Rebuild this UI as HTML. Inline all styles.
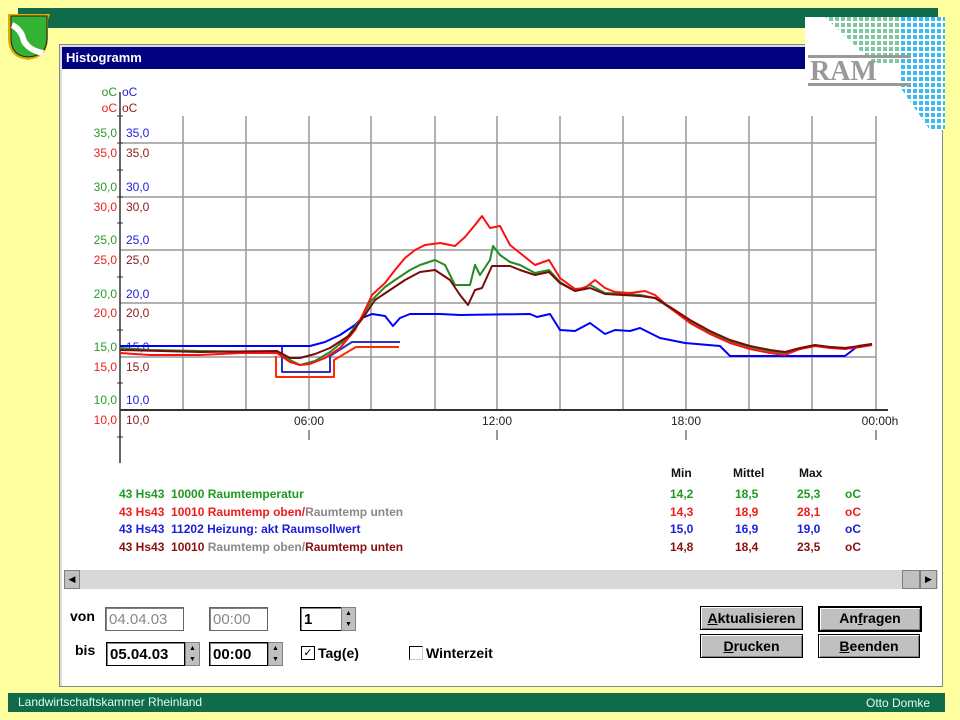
<!DOCTYPE html>
<html><head><meta charset="utf-8"><style>
body{margin:0;width:960px;height:720px;background:#ffffa0;position:relative;overflow:hidden;font-family:"Liberation Sans",sans-serif}
.a{position:absolute}
.btn{position:absolute;background:#c0c0c0;border:1px solid #000;box-shadow:inset 1px 1px 0 #fff,inset -1px -1px 0 #808080;font:bold 14px "Liberation Sans",sans-serif;text-align:center;line-height:22px;height:22px}
.inp{position:absolute;background:#fff;border:1px solid #000;box-shadow:inset 1px 1px 0 #808080;font:bold 15px "Liberation Sans",sans-serif;line-height:24px;height:24px;padding-left:3px;box-sizing:border-box}
.spin{position:absolute;width:15px;height:24px;background:#c0c0c0;border:1px solid #808080;box-sizing:border-box;font-size:7px;line-height:11px;text-align:center}
.lg{position:absolute;font:bold 12px "Liberation Sans",sans-serif;white-space:pre}
</style></head><body>
<div class="a" style="left:18px;top:8px;width:920px;height:20px;background:#0f6b4a"></div>
<div class="a" style="left:8px;top:693px;width:937px;height:19px;background:#0f6b4a"></div>
<div class="a" style="left:18px;top:695px;color:#dfe;font-size:12px">Landwirtschaftskammer Rheinland</div>
<div class="a" style="left:866px;top:696px;color:#dfe;font-size:12px">Otto Domke</div>
<svg class="a" style="left:4px;top:12px" width="48" height="50"><path d="M4 2 H46 L44 8 V26 Q44 46 24 48 Q4 46 4 26 V8 Z" fill="#d9b000"/><path d="M7 4 H43 V26 Q43 44 24 45 Q7 44 7 26 Z" fill="#33b233" stroke="#222" stroke-width="1"/><path d="M9 10 Q20 16 22 26 Q26 36 40 38 L38 44 Q22 40 17 30 Q15 20 7 16 Z" fill="#fff"/></svg>
<div class="a" style="left:59px;top:44px;width:882px;height:641px;background:#fff;border:1px solid #888;box-shadow:inset 2px 2px 0 #ddd"></div>
<div class="a" style="left:62px;top:47px;width:878px;height:22px;background:#000080;color:#fff;font:bold 13px 'Liberation Sans',sans-serif;line-height:22px;padding-left:4px;box-sizing:border-box">Histogramm</div>
<svg class="a" style="left:805px;top:17px" width="140" height="113"><defs>
<pattern id="g" width="6" height="6" patternUnits="userSpaceOnUse"><rect width="4" height="4" fill="#80c8a0"/></pattern>
<pattern id="b" width="6" height="6" patternUnits="userSpaceOnUse"><rect width="4" height="4" fill="#40b8f0"/></pattern></defs>
<rect width="140" height="113" fill="#fff"/>
<polygon points="20,0 110,0 110,48 70,48" fill="url(#g)"/>
<polygon points="95,0 140,0 140,113 125,113 95,70" fill="url(#b)"/>
<rect x="3" y="38" width="103" height="3" fill="#999"/><rect x="3" y="66" width="103" height="3" fill="#999"/>
<text x="5" y="63" font-family="Liberation Serif" font-weight="bold" font-size="28" fill="#999">RAM</text></svg>
<svg class="a" style="left:0;top:0" width="960" height="470" font-family="Liberation Sans" font-size="12">
<g stroke="#999" stroke-width="1.5">
<line x1="120" y1="143" x2="876" y2="143"/><line x1="120" y1="197" x2="876" y2="197"/><line x1="120" y1="250" x2="876" y2="250"/><line x1="120" y1="303" x2="876" y2="303"/><line x1="120" y1="357" x2="876" y2="357"/>
<line x1="183" y1="116" x2="183" y2="410"/><line x1="246" y1="116" x2="246" y2="410"/><line x1="309" y1="116" x2="309" y2="410"/><line x1="371" y1="116" x2="371" y2="410"/><line x1="435" y1="116" x2="435" y2="410"/><line x1="497" y1="116" x2="497" y2="410"/><line x1="560" y1="116" x2="560" y2="410"/><line x1="623" y1="116" x2="623" y2="410"/><line x1="686" y1="116" x2="686" y2="410"/><line x1="749" y1="116" x2="749" y2="410"/><line x1="812" y1="116" x2="812" y2="410"/><line x1="876" y1="116" x2="876" y2="410"/>
</g>
<line x1="120" y1="92" x2="120" y2="463" stroke="#333" stroke-width="1.5"/>
<line x1="120" y1="410" x2="888" y2="410" stroke="#333" stroke-width="2"/>
<g stroke="#333"><line x1="309" y1="430" x2="309" y2="440"/><line x1="497" y1="430" x2="497" y2="440"/><line x1="686" y1="430" x2="686" y2="440"/><line x1="876" y1="430" x2="876" y2="440"/>
<line x1="117" y1="116" x2="123" y2="116"/><line x1="117" y1="170" x2="123" y2="170"/><line x1="117" y1="223" x2="123" y2="223"/><line x1="117" y1="277" x2="123" y2="277"/><line x1="117" y1="330" x2="123" y2="330"/><line x1="117" y1="383" x2="123" y2="383"/><line x1="117" y1="437" x2="123" y2="437"/><line x1="117" y1="143" x2="123" y2="143"/><line x1="117" y1="197" x2="123" y2="197"/></g>
<g text-anchor="end">
<text x="117" y="96" fill="#2a9a2a">oC</text><text x="117" y="112" fill="#ee2020">oC</text>
<text x="117" y="137" fill="#2a9a2a">35,0</text><text x="117" y="157" fill="#ee2020">35,0</text>
<text x="117" y="191" fill="#2a9a2a">30,0</text><text x="117" y="211" fill="#ee2020">30,0</text>
<text x="117" y="244" fill="#2a9a2a">25,0</text><text x="117" y="264" fill="#ee2020">25,0</text>
<text x="117" y="298" fill="#2a9a2a">20,0</text><text x="117" y="317" fill="#ee2020">20,0</text>
<text x="117" y="351" fill="#2a9a2a">15,0</text><text x="117" y="371" fill="#ee2020">15,0</text>
<text x="117" y="404" fill="#2a9a2a">10,0</text><text x="117" y="424" fill="#ee2020">10,0</text></g>
<g>
<text x="122" y="96" fill="#2020dd">oC</text><text x="122" y="112" fill="#8b1a1a">oC</text>
<text x="126" y="137" fill="#2020dd">35,0</text><text x="126" y="157" fill="#8b1a1a">35,0</text>
<text x="126" y="191" fill="#2020dd">30,0</text><text x="126" y="211" fill="#8b1a1a">30,0</text>
<text x="126" y="244" fill="#2020dd">25,0</text><text x="126" y="264" fill="#8b1a1a">25,0</text>
<text x="126" y="298" fill="#2020dd">20,0</text><text x="126" y="317" fill="#8b1a1a">20,0</text>
<text x="126" y="351" fill="#2020dd">15,0</text><text x="126" y="371" fill="#8b1a1a">15,0</text>
<text x="126" y="404" fill="#2020dd">10,0</text><text x="126" y="424" fill="#8b1a1a">10,0</text></g>
<g fill="#222" text-anchor="middle"><text x="309" y="425">06:00</text><text x="497" y="425">12:00</text><text x="686" y="425">18:00</text><text x="880" y="425">00:00h</text></g>
<g fill="none" stroke-width="2" stroke-linejoin="round">
<polyline stroke="#ff2a00" points="276,356 276,377 334,377 334,360 356,347 399,347"/>
<polyline stroke="#3030c0" points="282,346 282,372 330,372 330,356 352,342 400,342"/>
<polyline stroke="#0000ff" points="120,346 310,346 325,342 340,335 355,325 362,318 372,314 385,316 393,326 400,318 410,314 440,314 460,315 530,314 537,317 550,314 560,330 575,331 590,323 605,334 615,330 630,331 640,328 660,338 685,343 720,346 730,356 845,356 858,346 872,344"/>
<polyline stroke="#228b22" points="120,348 150,350 200,351 277,352 290,360 300,365 315,361 330,352 345,340 360,320 372,300 385,287 395,280 410,270 420,265 435,260 445,265 455,285 470,285 475,265 480,275 490,260 493,246 500,255 510,262 520,265 535,273 549,270 560,282 575,291 590,285 605,293 640,295 655,298 670,308 690,322 710,333 730,341 750,347 770,351 785,353 800,349 815,346 830,347 845,348 860,347 872,345"/>
<polyline stroke="#ff1010" points="120,353 150,355 200,355 240,353 277,353 290,362 300,365 310,364 325,358 340,348 355,330 365,310 372,295 385,283 395,270 405,258 415,250 425,245 440,243 455,246 465,237 475,225 482,216 490,228 500,226 510,245 520,253 535,265 549,260 560,278 575,289 585,288 595,280 605,288 615,292 630,293 645,291 655,295 670,308 690,323 710,334 730,343 750,349 770,353 785,355 800,349 815,346 830,348 845,349 860,347 872,345"/>
<polyline stroke="#7a0a0a" points="120,350 200,352 277,351 290,358 300,358 315,354 330,348 350,335 365,315 375,300 390,290 405,280 420,272 435,270 450,280 460,295 468,305 475,290 482,288 492,266 510,266 520,270 535,275 549,272 560,283 575,291 590,288 605,294 640,296 655,298 670,307 690,320 710,331 730,340 750,346 770,350 785,352 800,348 815,345 830,347 845,348 860,346 872,344"/>
</g></svg>
<div class="lg" style="left:119px;top:487px;color:#1f9a1f">43 Hs43  10000 Raumtemperatur</div>
<div class="lg" style="left:119px;top:505px;color:#ee1c1c">43 Hs43  10010 Raumtemp oben/<span style="color:#888">Raumtemp unten</span></div>
<div class="lg" style="left:119px;top:522px;color:#1c1cdd">43 Hs43  11202 Heizung: akt Raumsollwert</div>
<div class="lg" style="left:119px;top:540px;color:#8b1010">43 Hs43  10010 <span style="color:#888">Raumtemp oben/</span>Raumtemp unten</div>
<div class="lg" style="left:671px;top:466px;color:#111">Min</div>
<div class="lg" style="left:733px;top:466px;color:#111">Mittel</div>
<div class="lg" style="left:799px;top:466px;color:#111">Max</div>
<div class="lg" style="left:670px;top:487px;color:#1f9a1f">14,2</div><div class="lg" style="left:735px;top:487px;color:#1f9a1f">18,5</div><div class="lg" style="left:797px;top:487px;color:#1f9a1f">25,3</div><div class="lg" style="left:845px;top:487px;color:#1f9a1f">oC</div>
<div class="lg" style="left:670px;top:505px;color:#ee1c1c">14,3</div><div class="lg" style="left:735px;top:505px;color:#ee1c1c">18,9</div><div class="lg" style="left:797px;top:505px;color:#ee1c1c">28,1</div><div class="lg" style="left:845px;top:505px;color:#ee1c1c">oC</div>
<div class="lg" style="left:670px;top:522px;color:#1c1cdd">15,0</div><div class="lg" style="left:735px;top:522px;color:#1c1cdd">16,9</div><div class="lg" style="left:797px;top:522px;color:#1c1cdd">19,0</div><div class="lg" style="left:845px;top:522px;color:#1c1cdd">oC</div>
<div class="lg" style="left:670px;top:540px;color:#8b1010">14,8</div><div class="lg" style="left:735px;top:540px;color:#8b1010">18,4</div><div class="lg" style="left:797px;top:540px;color:#8b1010">23,5</div><div class="lg" style="left:845px;top:540px;color:#8b1010">oC</div>
<div class="a" style="left:64px;top:570px;width:874px;height:19px;background:#d8d8d8"></div>
<div class="a" style="left:64px;top:570px;width:16px;height:19px;background:#c0c0c0;border:1px solid #808080;box-sizing:border-box;font-size:9px;text-align:center;line-height:17px">◀</div>
<div class="a" style="left:902px;top:570px;width:18px;height:19px;background:#c0c0c0;border:1px solid #808080;box-sizing:border-box"></div>
<div class="a" style="left:920px;top:570px;width:17px;height:19px;background:#c0c0c0;border:1px solid #808080;box-sizing:border-box;font-size:9px;text-align:center;line-height:17px">▶</div>
<div class="a" style="left:70px;top:608px;font:bold 14px 'Liberation Sans',sans-serif">von</div>
<div class="a" style="left:75px;top:642px;font:bold 14px 'Liberation Sans',sans-serif">bis</div>
<div class="inp" style="left:105px;top:607px;width:79px;color:#888;font-weight:normal;border-color:#666">04.04.03</div>
<div class="inp" style="left:209px;top:607px;width:59px;color:#888;font-weight:normal;border-color:#666">00:00</div>
<div class="inp" style="left:300px;top:607px;width:42px">1</div><div class="spin" style="left:341px;top:607px">▲<br>▼</div>
<div class="inp" style="left:106px;top:642px;width:79px">05.04.03</div><div class="spin" style="left:185px;top:642px">▲<br>▼</div>
<div class="inp" style="left:209px;top:642px;width:59px">00:00</div><div class="spin" style="left:268px;top:642px">▲<br>▼</div>
<div class="a" style="left:301px;top:646px;width:12px;height:12px;border:1px solid #000;font-size:11px;line-height:12px;text-align:center">✓</div>
<div class="a" style="left:318px;top:645px;font:bold 14px 'Liberation Sans',sans-serif">Tag(e)</div>
<div class="a" style="left:409px;top:646px;width:12px;height:12px;border:1px solid #000;border-right-color:#ccc;border-bottom-color:#ccc"></div>
<div class="a" style="left:426px;top:645px;font:bold 14px 'Liberation Sans',sans-serif">Winterzeit</div>
<div class="btn" style="left:700px;top:606px;width:101px"><u>A</u>ktualisieren</div>
<div class="btn" style="left:700px;top:634px;width:101px"><u>D</u>rucken</div>
<div class="btn" style="left:818px;top:606px;width:100px;border-width:2px;line-height:20px">An<u>f</u>ragen</div>
<div class="btn" style="left:818px;top:634px;width:100px"><u>B</u>eenden</div>
</body></html>
